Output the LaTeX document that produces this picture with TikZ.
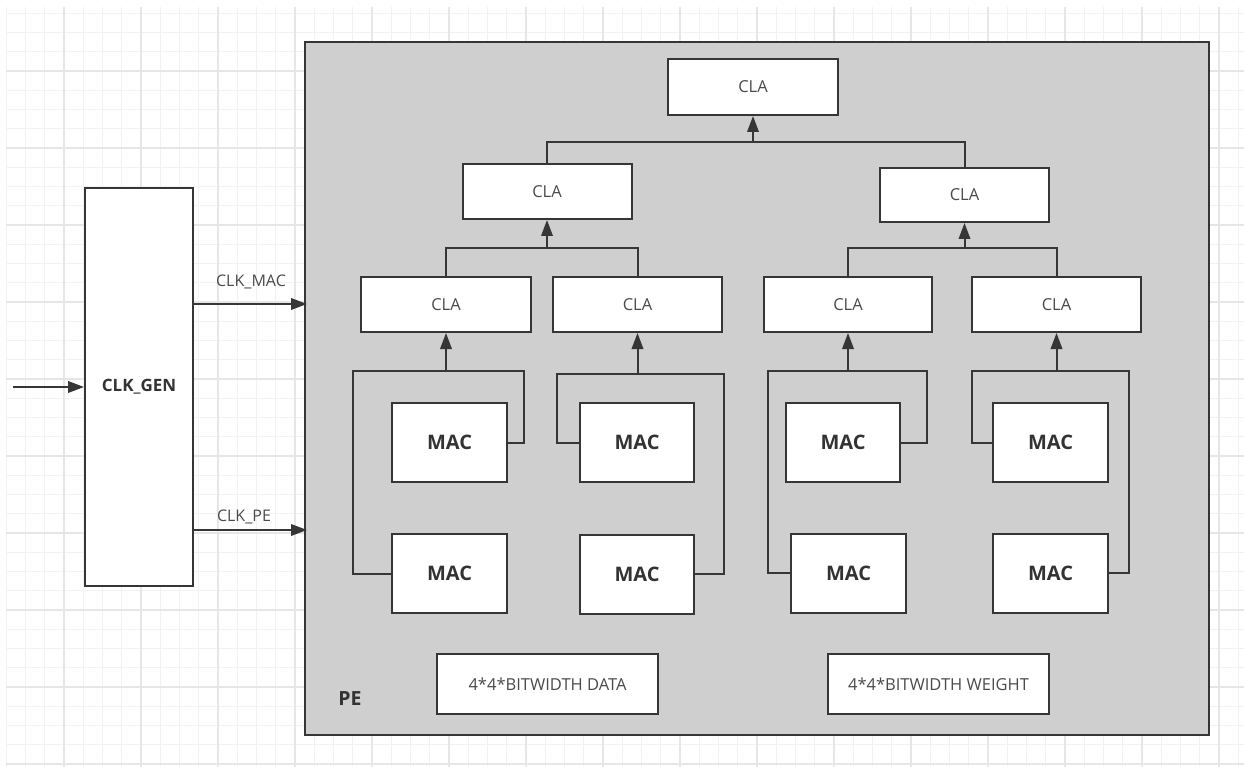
\documentclass[tikz,border=0pt]{standalone}
\usepackage{fontspec}
\setmainfont{Open Sans}
\usetikzlibrary{arrows.meta}
\definecolor{edge}{HTML}{363636}
\definecolor{pefill}{HTML}{CFCFCF}
\definecolor{labeltext}{HTML}{4A4A4A}
\definecolor{boldtext}{HTML}{333333}
\definecolor{gridminor}{HTML}{F2F2F2}
\definecolor{gridmajor}{HTML}{E6E6E6}
\tikzset{
  box/.style={draw=edge, line width=2pt, fill=white, inner sep=0pt},
  clabox/.style={box, minimum width=169pt, minimum height=55pt,
    font=\fontsize{16.5}{20}\selectfont, text=labeltext},
  macbox/.style={box, minimum width=115pt, minimum height=79pt,
    font=\bfseries\fontsize{20}{24}\selectfont, text=boldtext},
  membox/.style={box, minimum width=221pt, minimum height=60pt,
    font=\fontsize{16.5}{20}\selectfont, text=labeltext},
  wire/.style={draw=edge, line width=2pt},
  arr/.style={wire, -{Triangle[length=16pt,width=11.5pt]}},
  gridline/.style={draw=gridminor, line width=1pt},
  gridbold/.style={draw=gridmajor, line width=1.3pt},
}
\begin{document}
\begin{tikzpicture}[x=1pt,y=-1pt]
\useasboundingbox (0,0) rectangle (1244,767);
\fill[white] (0,0) rectangle (1244,767);

% background grid
\foreach \i in {0,...,64}
  \draw[gridline] ({6.25+19.25*\i},7) -- ({6.25+19.25*\i},767);
\foreach \j in {0,...,39}
  \draw[gridline] (6,{13.25+19.25*\j}) -- (1244,{13.25+19.25*\j});
\foreach \i in {3,7,...,63}
  \draw[gridbold] ({6.25+19.25*\i},7) -- ({6.25+19.25*\i},767);
\foreach \j in {3,7,...,39}
  \draw[gridbold] (6,{13.25+19.25*\j}) -- (1244,{13.25+19.25*\j});

% processing element frame
\node[draw=edge, line width=2.2pt, fill=pefill, inner sep=0pt,
      minimum width=904pt, minimum height=693pt] (pe) at (757,388.5) {};
\node[font=\bfseries\fontsize{19.5}{22}\selectfont, text=boldtext, anchor=base]
  (pelabel) at (350,705) {PE};

% clock generator
\node[box, minimum width=108pt, minimum height=397pt,
      font=\bfseries\fontsize{17}{20}\selectfont, text=boldtext]
  (gen) at (139,387) {CLK\_GEN};

% adder tree
\node[clabox, minimum width=170pt, minimum height=56pt] (cla0) at (753,87) {CLA};
\node[clabox] (cla1) at (547,191.5) {CLA};
\node[clabox, minimum height=54pt] (cla2) at (964.5,195) {CLA};
\node[clabox, minimum width=170pt] (cla3) at (446,304.5) {CLA};
\node[clabox] (cla4) at (637.5,304.5) {CLA};
\node[clabox, minimum width=168pt] (cla5) at (848,304.5) {CLA};
\node[clabox] (cla6) at (1056.5,304.5) {CLA};

% multiply-accumulate units
\node[macbox] (m1) at (449.5,442.5) {MAC};
\node[macbox] (m2) at (449.5,573.5) {MAC};
\node[macbox, minimum width=114pt] (m3) at (637,442.5) {MAC};
\node[macbox, minimum width=114pt] (m4) at (637,574) {MAC};
\node[macbox, minimum width=114pt] (m5) at (843,442.5) {MAC};
\node[macbox] (m6) at (848.5,573) {MAC};
\node[macbox] (m7) at (1050.5,442.5) {MAC};
\node[macbox] (m8) at (1050.5,573) {MAC};

% buffers
\node[membox] (data) at (547.5,684) {4*4*BITWIDTH DATA};
\node[membox] (weight) at (938.5,684) {4*4*BITWIDTH WEIGHT};

% junction points
\coordinate (j0) at (753,142);
\coordinate (j1) at (547,248);
\coordinate (j2) at (964.5,248);
\coordinate (aL) at (353,371);
\coordinate (aR) at (524,371);
\coordinate (bL) at (557,374);
\coordinate (bR) at (724,374);
\coordinate (cL) at (768,371);
\coordinate (cR) at (927,371);
\coordinate (dL) at (972,371);
\coordinate (dR) at (1129,371);

% MAC pairs into first-level CLAs
\draw[wire] (m1.east) -| (aR) -- (aL) |- (m2.west);
\draw[arr] (cla3.south |- aR) -- (cla3.south);
\draw[wire] (m3.west) -| (bL) -- (bR) |- (m4.east);
\draw[arr] (cla4.south |- bL) -- (cla4.south);
\draw[wire] (m5.east) -| (cR) -- (cL) |- (m6.west);
\draw[arr] (cla5.south |- cL) -- (cla5.south);
\draw[wire] (m7.west) -| (dL) -- (dR) |- (m8.east);
\draw[arr] (cla6.south |- dL) -- (cla6.south);

% tree levels
\draw[wire] (cla3.north) |- (j1) -| (cla4.north);
\draw[arr] (j1) -- (cla1.south);
\draw[wire] (cla5.north) |- (j2) -| (cla6.north);
\draw[arr] (j2) -- (cla2.south);
\draw[wire] (cla1.north) |- (j0) -| (cla2.north);
\draw[arr] (j0) -- (cla0.south);

% clocks
\coordinate (clkin) at (13,387);
\coordinate (macin) at (307,304);
\coordinate (pein) at (307,530);
\draw[arr] (clkin) -- (gen.west);
\draw[arr] (gen.east |- macin) -- (macin);
\draw[arr] (gen.east |- pein) -- (pein);
\node[font=\fontsize{16}{19}\selectfont, text=labeltext, anchor=base]
  (lmac) at (251,286) {CLK\_MAC};
\node[font=\fontsize{16}{19}\selectfont, text=labeltext, anchor=base]
  (lpe) at (244,521) {CLK\_PE};
\end{tikzpicture}
\end{document}
